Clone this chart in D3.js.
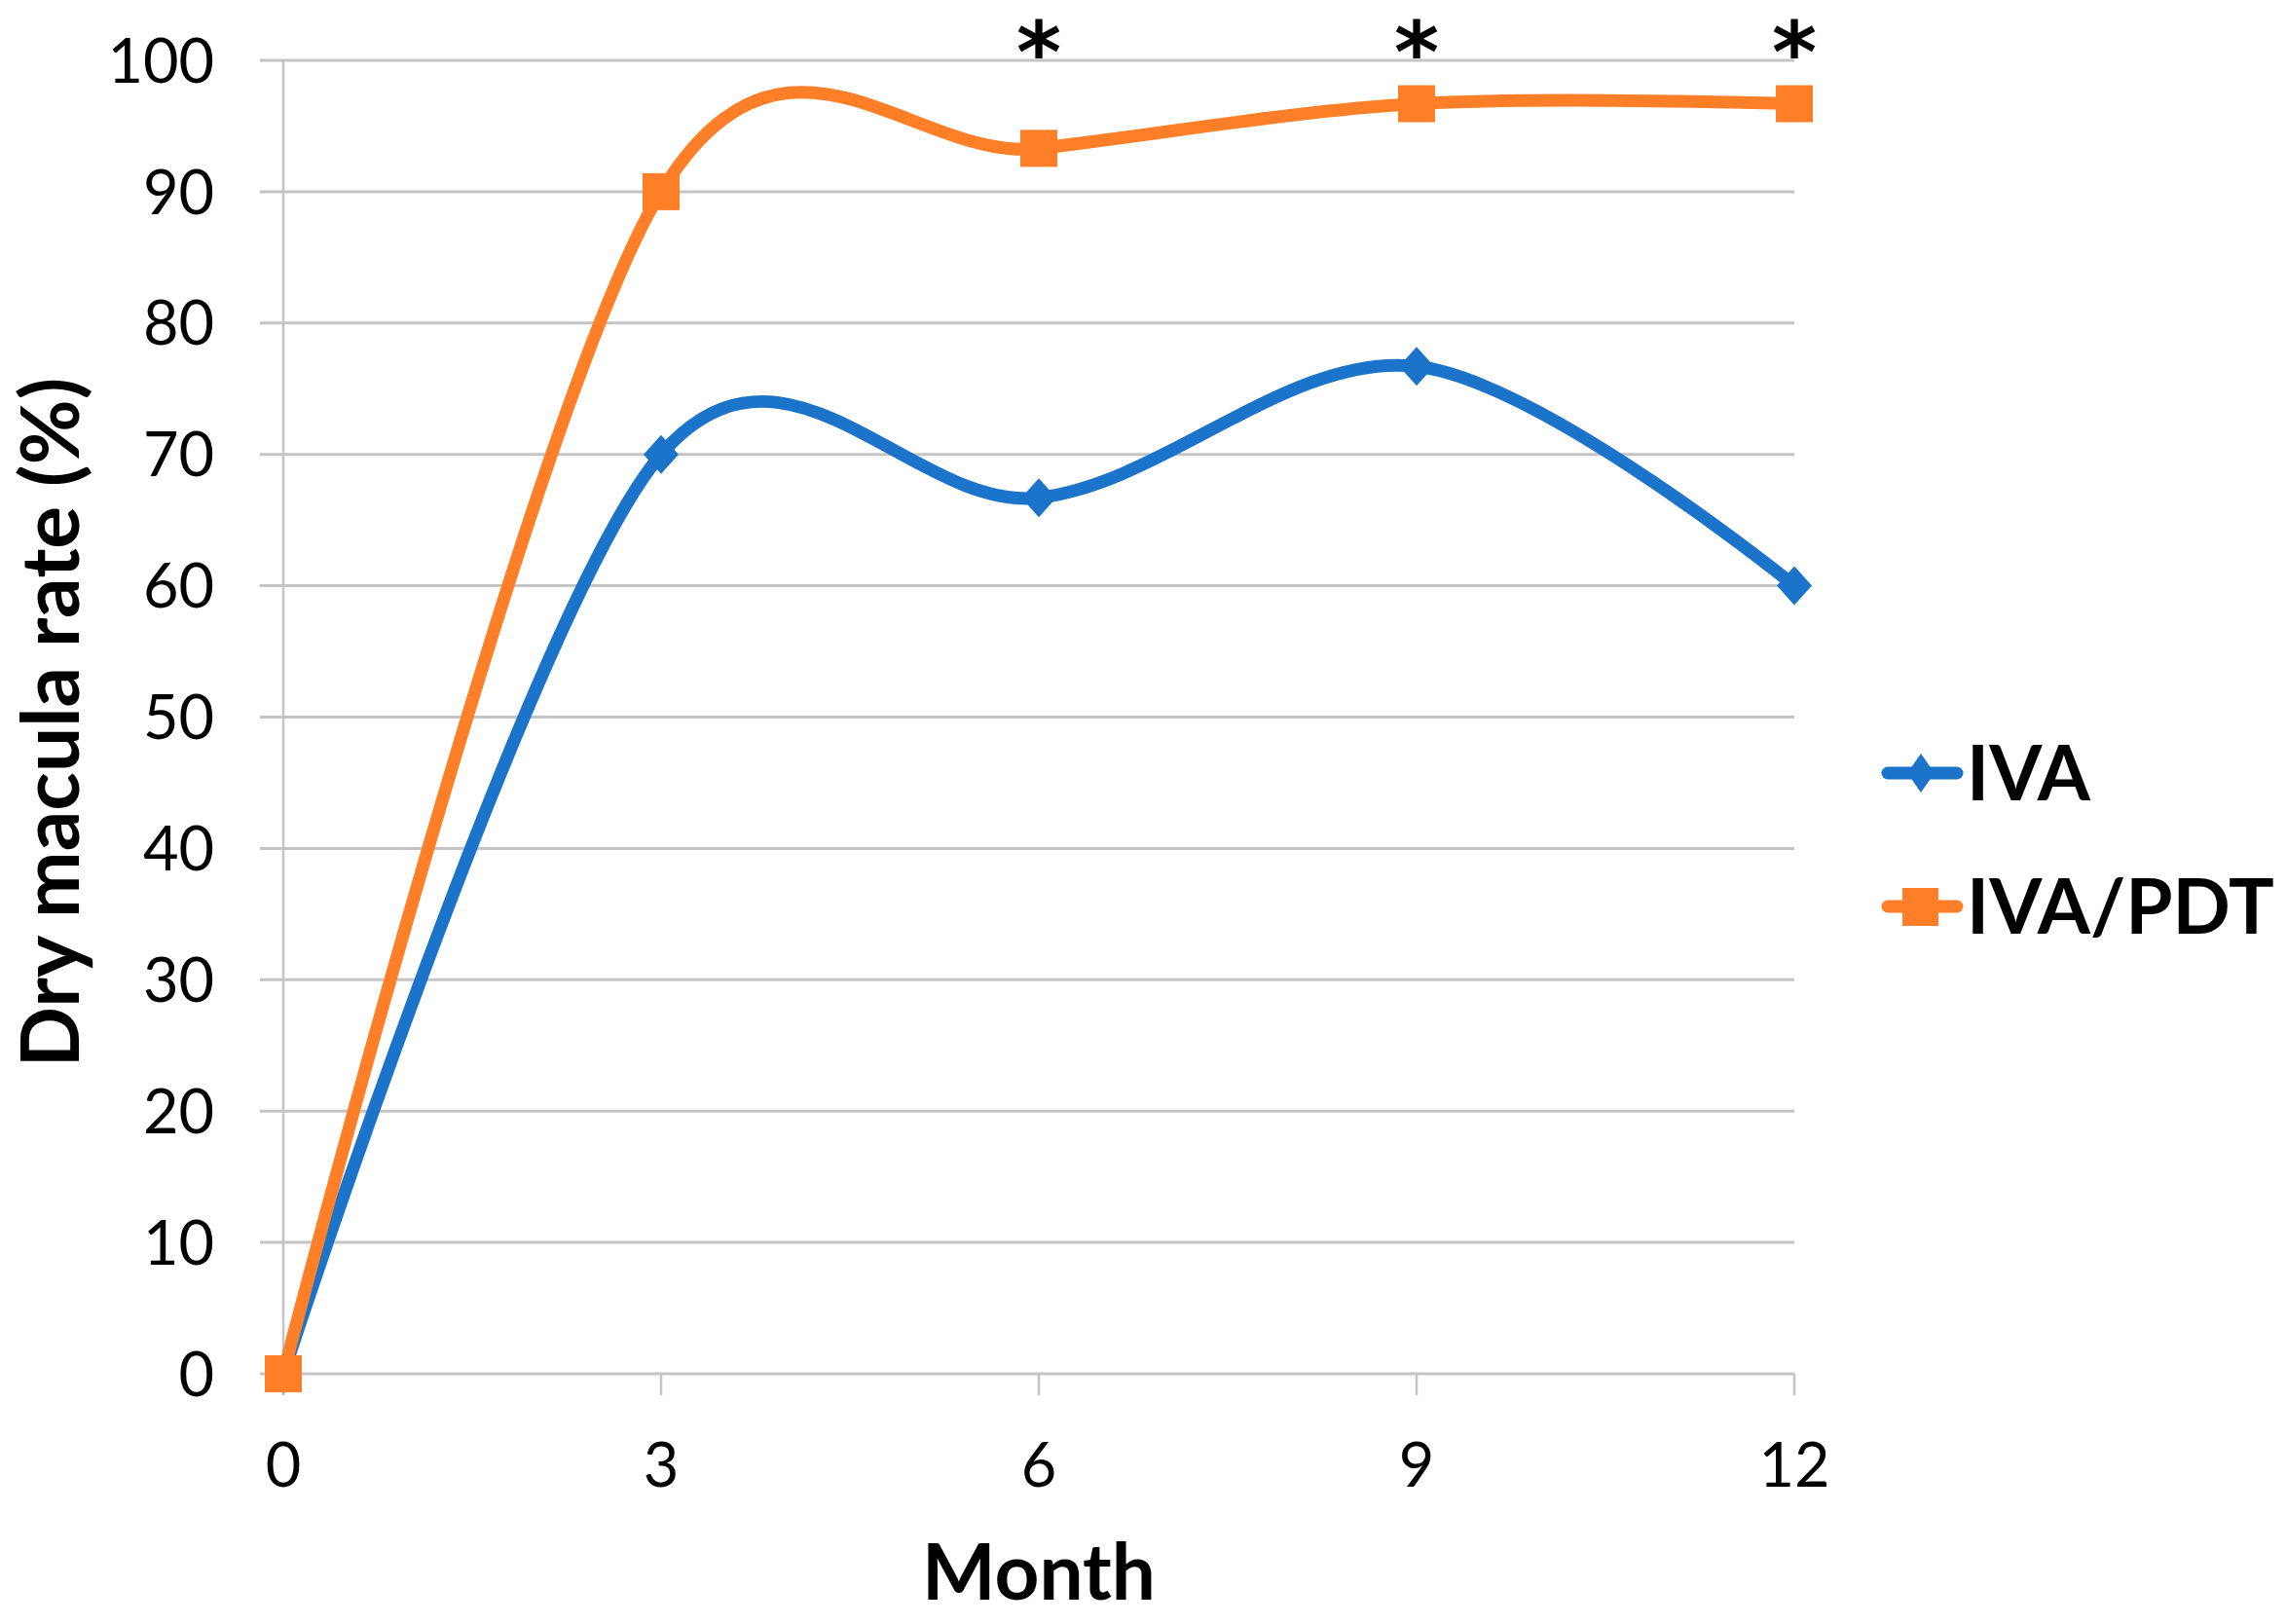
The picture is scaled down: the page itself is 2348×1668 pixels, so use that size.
<!DOCTYPE html>
<html>
<head>
<meta charset="utf-8">
<script src="https://cdn.jsdelivr.net/npm/d3@7"></script>
<style>
  body{margin:0;background:#fff;}
  text{font-family:Lato, "Open Sans", sans-serif;fill:#000;}
</style>
</head>
<body>
<svg id="chart" width="2348" height="1668"></svg>
<script>
// data
let months = [0, 3, 6, 9, 12];
let iva = [0, 70, 66.7, 76.7, 60];
let ivaPdt = [0, 90, 93.3, 96.7, 96.7];
let yTicks = [0, 10, 20, 30, 40, 50, 60, 70, 80, 90, 100];
let starMonths = [6, 9, 12];

let svg = d3.select("#chart");
let x = d3.scaleLinear().domain([0, 12]).range([291, 1843]);
let y = d3.scaleLinear().domain([0, 100]).range([1411, 62]);

let blue = '#1b74c9';
let orange = '#fe7f27';
let grid = '#c4c4c4';

// gridlines + y ticks
svg.append('g').selectAll('line')
    .data(yTicks)
    .enter().append('line')
    .attr('x1', x(0) - 24).attr('x2', x(12))
    .attr('y1', function(d){return y(d)}).attr('y2', function(d){return y(d)})
    .style('stroke', grid).style('stroke-width', 3);

// y axis line
svg.append('line')
    .attr('x1', x(0)).attr('x2', x(0)).attr('y1', y(100)).attr('y2', y(0) + 22)
    .style('stroke', grid).style('stroke-width', 2.5);

// x tick marks
svg.append('g').selectAll('line')
    .data(months)
    .enter().append('line')
    .attr('x1', function(d){return x(d)}).attr('x2', function(d){return x(d)})
    .attr('y1', y(0)).attr('y2', y(0) + 22)
    .style('stroke', grid).style('stroke-width', 2.5);

// tick labels
svg.append('g').selectAll('text')
    .data(yTicks)
    .enter().append('text')
    .attr('x', 220).attr('y', function(d){return y(d)})
    .attr('dy', '0.36em')
    .attr('text-anchor', 'end')
    .style('font-size', '63px')
    .text(function(d){return d});

svg.append('g').selectAll('text')
    .data(months)
    .enter().append('text')
    .attr('x', function(d){return x(d)}).attr('y', 1527)
    .attr('text-anchor', 'middle')
    .style('font-size', '63px')
    .text(function(d){return d});

// axis titles
svg.append('text')
    .attr('x', 1067).attr('y', 1643)
    .attr('text-anchor', 'middle')
    .style('font-size', '80px').style('font-weight', 'bold')
    .text('Month');

svg.append('text')
    .attr('transform', 'translate(81,742) rotate(-90)')
    .attr('text-anchor', 'middle')
    .style('font-size', '82px').style('font-weight', 'bold')
    .text('Dry macula rate (%)');

// lines
let line = d3.line()
    .x(function(d){return x(d.m)})
    .y(function(d){return y(d.v)})
    .curve(d3.curveCardinal.tension(0));

function pts(vals){
    return months.map(function(m, i){return {m: m, v: vals[i]}});
}

function diamond(w, h){
    return 'M0,' + (-h/2) + 'L' + (w/2) + ',0L0,' + (h/2) + 'L' + (-w/2) + ',0Z';
}

svg.append('path')
    .attr('d', line(pts(iva)))
    .style('fill', 'none').style('stroke', blue).style('stroke-width', 13)
    .style('stroke-linejoin', 'round');

svg.append('path')
    .attr('d', line(pts(ivaPdt)))
    .style('fill', 'none').style('stroke', orange).style('stroke-width', 13)
    .style('stroke-linejoin', 'round');

svg.append('g').selectAll('path')
    .data(pts(iva))
    .enter().append('path')
    .attr('d', diamond(36, 40))
    .attr('transform', function(d){return 'translate(' + x(d.m) + ',' + y(d.v) + ')'})
    .style('fill', blue);

svg.append('g').selectAll('rect')
    .data(pts(ivaPdt))
    .enter().append('rect')
    .attr('x', function(d){return x(d.m) - 19}).attr('y', function(d){return y(d.v) - 19})
    .attr('width', 38).attr('height', 38)
    .style('fill', orange);

// significance stars
svg.append('g').selectAll('text')
    .data(starMonths)
    .enter().append('text')
    .attr('x', function(d){return x(d)}).attr('y', 84)
    .attr('text-anchor', 'middle')
    .style('font-family', '"DejaVu Sans", sans-serif')
    .style('font-size', '88px').style('font-weight', 'bold')
    .text('*');

// legend
let legend = [
    {name: 'IVA', color: blue, shape: 'diamond', y: 794},
    {name: 'IVA/PDT', color: orange, shape: 'square', y: 931}
];
let lg = svg.append('g').selectAll('g')
    .data(legend)
    .enter().append('g')
    .attr('transform', function(d){return 'translate(0,' + d.y + ')'});
lg.append('line')
    .attr('x1', 1939).attr('x2', 2010).attr('y1', 0).attr('y2', 0)
    .style('stroke', function(d){return d.color}).style('stroke-width', 13)
    .style('stroke-linecap', 'round');
lg.append('path')
    .attr('d', function(d){
        return d.shape == 'diamond' ? diamond(28, 40) : 'M-19,-19H18V20H-19Z';
    })
    .attr('transform', 'translate(1973,0)')
    .style('fill', function(d){return d.color});
lg.append('text')
    .attr('x', 2020).attr('y', 0).attr('dy', '0.36em')
    .style('font-size', '78px').style('font-weight', 'bold')
    .text(function(d){return d.name});
</script>
</body>
</html>
